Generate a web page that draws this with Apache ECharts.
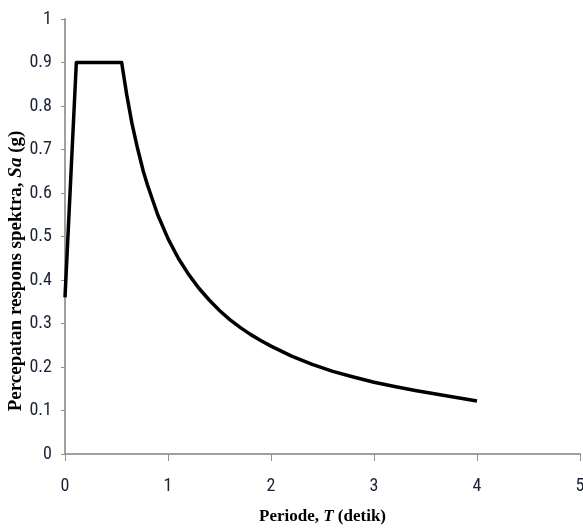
<!DOCTYPE html>
<html>
<head>
<meta charset="utf-8">
<script src="https://cdn.jsdelivr.net/npm/echarts@6/dist/echarts.min.js"></script>
<style>
  html, body { margin: 0; padding: 0; background: #fff; }
  #chart { width: 583px; height: 532px; }
</style>
</head>
<body>
<div id="chart"></div>
<script>
// periode T (detik) dan percepatan Sa (g)
const periods = [0, 0.11, 0.55, 0.6, 0.65, 0.7, 0.76, 0.8, 0.9, 1.0, 1.1, 1.2, 1.3, 1.4, 1.5, 1.6, 1.7, 1.8, 1.9, 2.0, 2.2, 2.4, 2.6, 2.8, 3.0, 3.2, 3.4, 3.6, 3.8, 4.0]
const accel = [0.36, 0.9, 0.9, 0.825, 0.76, 0.707, 0.65, 0.619, 0.55, 0.495, 0.45, 0.413, 0.381, 0.354, 0.33, 0.309, 0.291, 0.275, 0.261, 0.248, 0.225, 0.206, 0.19, 0.177, 0.165, 0.155, 0.146, 0.138, 0.13, 0.122]
const xTicks = [0, 1, 2, 3, 4, 5]
const yTicks = [0, 0.1, 0.2, 0.3, 0.4, 0.5, 0.6, 0.7, 0.8, 0.9, 1]

const chart = echarts.init(document.getElementById('chart'))

const tickFont = '"Liberation Sans Narrow", "Arial Narrow", "Roboto Condensed", sans-serif'
const titleFont = '"Liberation Serif", "Times New Roman", serif'

const option = {
  animation: false,
  grid: { left: 65, right: 3, top: 19, bottom: 78, outerBoundsMode: 'none' },
  xAxis: {
    type: 'value',
    min: xTicks[0],
    max: xTicks[xTicks.length - 1],
    interval: 1,
    name: '{b|Periode, }{i|T}{b| (detik)}',
    nameLocation: 'middle',
    nameGap: 54,
    nameTextStyle: {
      rich: {
        b: { fontFamily: titleFont, fontWeight: 'bold', fontSize: 17, color: '#000' },
        i: { fontFamily: titleFont, fontWeight: 'bold', fontStyle: 'italic', fontSize: 17, color: '#000' }
      }
    },
    axisLine: { lineStyle: { color: '#a0a0a0', width: 2 } },
    axisTick: { show: true, length: 7, lineStyle: { color: '#909090' } },
    axisLabel: { color: '#1b2136', fontFamily: tickFont, fontSize: 18, margin: 23 },
    splitLine: { show: false }
  },
  yAxis: {
    type: 'value',
    min: yTicks[0],
    max: yTicks[yTicks.length - 1],
    interval: 0.1,
    axisLine: { show: true, lineStyle: { color: '#a0a0a0', width: 2 } },
    axisTick: { show: true, length: 4, lineStyle: { color: '#909090' } },
    axisLabel: { color: '#1b2136', fontFamily: tickFont, fontSize: 18, margin: 13 },
    splitLine: { show: false }
  },
  graphic: [
    {
      type: 'text',
      x: 16,
      y: 271,
      rotation: Math.PI / 2,
      style: {
        text: '{b|Percepatan respons spektra, }{i|Sa}{b| (g)}',
        align: 'center',
        verticalAlign: 'middle',
        rich: {
          b: { fontFamily: titleFont, fontWeight: 'bold', fontSize: 19, fill: '#000' },
          i: { fontFamily: titleFont, fontWeight: 'bold', fontStyle: 'italic', fontSize: 19, fill: '#000' }
        }
      }
    }
  ],
  series: [
    {
      type: 'line',
      data: periods.map((t, i) => [t, accel[i]]),
      symbol: 'none',
      lineStyle: { color: '#000', width: 3.5, join: 'round' }
    }
  ]
}

chart.setOption(option)
</script>
</body>
</html>
